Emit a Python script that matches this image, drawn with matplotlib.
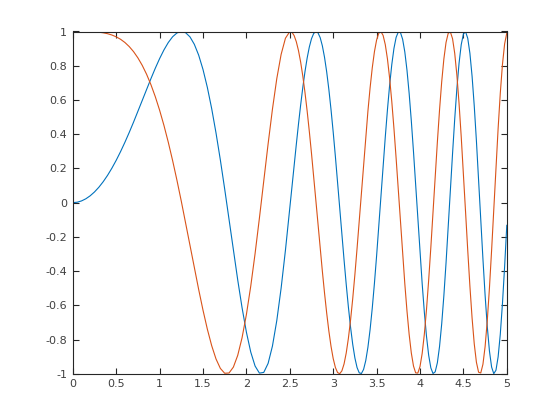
import numpy as np
import matplotlib
matplotlib.use('Agg')
import matplotlib.pyplot as plt

# sample grid: coarse on the slow part, finer where it oscillates fast
x = np.concatenate([np.linspace(0, 2.5, 51), np.linspace(2.525, 5.0, 100)])

sin_a = [0, 0.0025, 0.0100, 0.0225, 0.0400, 0.0625, 0.0899, 0.1222, 0.1593, 0.2011,
         0.2474, 0.2979, 0.3523, 0.4101, 0.4706, 0.5333, 0.5972, 0.6613, 0.7243, 0.7849,
         0.8415, 0.8923, 0.9356, 0.9693, 0.9915, 1.0000, 0.9929, 0.9685, 0.9252, 0.8620,
         0.7781, 0.6736, 0.5494, 0.4069, 0.2490, 0.0790, -0.0982, -0.2772, -0.4515, -0.6138,
         -0.7568, -0.8728, -0.9546, -0.9960, -0.9919, -0.9393, -0.8379, -0.6894, -0.4996, -0.2770,
         -0.0332]
sin_b = [0.0923, 0.2176, 0.3405, 0.4590, 0.5708, 0.6738, 0.7659, 0.8451, 0.9096, 0.9578,
         0.9883, 0.9999, 0.9920, 0.9642, 0.9165, 0.8494, 0.7638, 0.6611, 0.5431, 0.4121,
         0.2707, 0.1220, -0.0308, -0.1842, -0.3343, -0.4774, -0.6098, -0.7279, -0.8282, -0.9077,
         -0.9638, -0.9944, -0.9982, -0.9744, -0.9230, -0.8449, -0.7418, -0.6162, -0.4713, -0.3111,
         -0.1403, 0.0361, 0.2126, 0.3835, 0.5432, 0.6861, 0.8071, 0.9017, 0.9660, 0.9972,
         0.9936, 0.9545, 0.8807, 0.7742, 0.6383, 0.4776, 0.2978, 0.1053, -0.0925, -0.2879,
         -0.4730, -0.6400, -0.7819, -0.8921, -0.9656, -0.9984, -0.9885, -0.9355, -0.8409, -0.7083,
         -0.5429, -0.3519, -0.1434, 0.0729, 0.2870, 0.4886, 0.6677, 0.8151, 0.9231, 0.9855,
         0.9985, 0.9605, 0.8726, 0.7387, 0.5651, 0.3604, 0.1351, -0.0987, -0.3283, -0.5408,
         -0.7239, -0.8669, -0.9607, -0.9992, -0.9793, -0.9013, -0.7689, -0.5893, -0.3729, -0.1324]

cos_a = [1, 1.0000, 0.9999, 0.9997, 0.9992, 0.9980, 0.9960, 0.9925, 0.9872, 0.9796,
         0.9689, 0.9546, 0.9359, 0.9120, 0.8823, 0.8459, 0.8021, 0.7502, 0.6895, 0.6197,
         0.5403, 0.4514, 0.3530, 0.2458, 0.1304, 0.0083, -0.1189, -0.2491, -0.3795, -0.5070,
         -0.6282, -0.7391, -0.8356, -0.9135, -0.9685, -0.9969, -0.9952, -0.9608, -0.8923, -0.7894,
         -0.6536, -0.4881, -0.2978, -0.0898, 0.1273, 0.3430, 0.5460, 0.7244, 0.8662, 0.9609,
         0.9995]
cos_b = [0.9957, 0.9760, 0.9402, 0.8885, 0.8211, 0.7389, 0.6430, 0.5346, 0.4154, 0.2874,
         0.1528, 0.0140, -0.1263, -0.2653, -0.4001, -0.5278, -0.6455, -0.7503, -0.8397, -0.9111,
         -0.9627, -0.9925, -0.9995, -0.9829, -0.9425, -0.8787, -0.7925, -0.6857, -0.5605, -0.4197,
         -0.2667, -0.1054, 0.0600, 0.2250, 0.3849, 0.5349, 0.6706, 0.7876, 0.8820, 0.9504,
         0.9901, 0.9993, 0.9771, 0.9235, 0.8396, 0.7275, 0.5904, 0.4324, 0.2586, 0.0746,
         -0.1132, -0.2982, -0.4737, -0.6329, -0.7698, -0.8786, -0.9546, -0.9944, -0.9957, -0.9577,
         -0.8811, -0.7684, -0.6234, -0.4518, -0.2601, -0.0562, 0.1513, 0.3534, 0.5412, 0.7059,
         0.8398, 0.9361, 0.9897, 0.9973, 0.9579, 0.8725, 0.7445, 0.5793, 0.3846, 0.1695,
         -0.0552, -0.2784, -0.4884, -0.6740, -0.8250, -0.9328, -0.9908, -0.9951, -0.9446, -0.8412,
         -0.6899, -0.4986, -0.2776, -0.0394, 0.2023, 0.4332, 0.6394, 0.8079, 0.9279, 0.9912]

y_sin = sin_a + sin_b
y_cos = cos_a + cos_b

xticks = [0, 0.5, 1, 1.5, 2, 2.5, 3, 3.5, 4, 4.5, 5]
xticklabels = ['0', '0.5', '1', '1.5', '2', '2.5', '3', '3.5', '4', '4.5', '5']
yticks = [-1, -0.8, -0.6, -0.4, -0.2, 0, 0.2, 0.4, 0.6, 0.8, 1]
yticklabels = ['-1', '-0.8', '-0.6', '-0.4', '-0.2', '0', '0.2', '0.4', '0.6', '0.8', '1']

plt.rcParams['font.family'] = ['DejaVu Sans']
fig = plt.figure(figsize=(5.6, 4.2), dpi=100)
ax = fig.add_axes([0.13, 0.11, 0.775, 0.815])

ax.plot(x, y_sin, color='#0072BD', linewidth=0.8)
ax.plot(x, y_cos, color='#D95319', linewidth=0.8)

ax.set_xlim(0, 5)
ax.set_ylim(-1, 1)
ax.set_xticks(xticks)
ax.set_xticklabels(xticklabels)
ax.set_yticks(yticks)
ax.set_yticklabels(yticklabels)
ax.tick_params(direction='in', top=True, right=True, length=4, width=0.8,
               colors='#262626', labelcolor='#404040', labelsize=8, pad=4)
for s in ax.spines.values():
    s.set_color('#262626')
    s.set_linewidth(0.8)

fig.savefig('out.png', dpi=100, facecolor='white')
